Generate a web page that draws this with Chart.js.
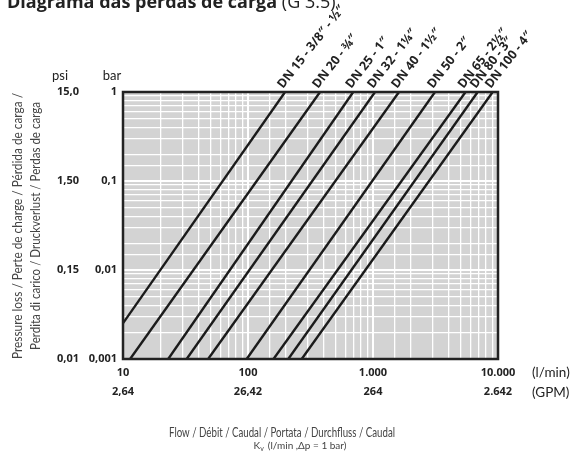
<!DOCTYPE html>
<html>
<head>
<meta charset="utf-8">
<script src="https://cdn.jsdelivr.net/npm/chart.js@4.4.1/dist/chart.umd.min.js"></script>
<style>
  body { margin: 0; background: #fff; }
  #wrap { width: 577px; height: 453px; }
</style>
</head>
<body>
<div id="wrap"><canvas id="loss-chart" width="577" height="453"></canvas></div>
<script>
"use strict";

/* --- DATA --- */

const dn_names = [
  'DN 15 - 3/8\u2033 - \u00bd\u2033',
  'DN 20 - \u00be\u2033',
  'DN 25 - 1\u2033',
  'DN 32 - 1\u00bc\u2033',
  'DN 40 - 1\u00bd\u2033',
  'DN 50 - 2\u2033',
  'DN 65 - 2\u00bd\u2033',
  'DN 80 - 3\u2033',
  'DN 100 - 4\u2033',
];

// flow (l/min) where each line meets 0,001 bar and 1 bar
const flow_at_low = [6.3, 11.4, 23, 32.3, 48, 97.6, 160, 210, 269];
const flow_at_high = [198, 377, 695, 1038, 1614, 3133, 5500, 6880, 9070];
const p_low = 0.001;
const p_high = 1;

const flow_ticks = [10, 100, 1000, 10000];
const flow_labels = ['10', '100', '1.000', '10.000'];
const gpm_labels = ['2,64', '26,42', '264', '2.642'];

const bar_ticks = [0.001, 0.01, 0.1, 1];
const bar_labels = ['0,001', '0,01', '0,1', '1'];
const psi_labels = ['0,01', '0,15', '1,50', '15,0'];

/* --- CHART --- */

const TEXT = '#222';
const BOLD = 'bold 11px "Open Sans"';

function tick_index(ticks, v) {
  return ticks.findIndex(t => Math.abs(Math.log10(t) - Math.log10(v)) < 1e-6);
}

const datasets = dn_names.map((name, i) => ({
  label: name,
  data: [{x: flow_at_low[i], y: p_low}, {x: flow_at_high[i], y: p_high}],
  borderColor: '#1b1b1b',
  borderWidth: 2.4,
  pointRadius: 0,
  clip: 0,
}));

const extras = {
  id: 'extras',
  beforeDraw(chart) {
    const {ctx, chartArea: a} = chart;
    ctx.save();
    ctx.fillStyle = '#d3d3d3';
    ctx.fillRect(a.left, a.top, a.right - a.left, a.bottom - a.top);
    ctx.restore();
  },
  afterDatasetsDraw(chart) {
    const {ctx, chartArea: a, scales} = chart;
    const x = scales.x, y = scales.y;
    ctx.save();

    // frame
    ctx.strokeStyle = '#222';
    ctx.lineWidth = 2.5;
    ctx.strokeRect(a.left, a.top, a.right - a.left, a.bottom - a.top);

    // title (cut at the top)
    ctx.fillStyle = TEXT;
    ctx.textBaseline = 'alphabetic';
    ctx.textAlign = 'left';
    ctx.font = 'bold 18px "Open Sans"';
    const t1 = 'Diagrama das perdas de carga';
    ctx.fillText(t1, 7, 8);
    const w1 = ctx.measureText(t1).width;
    ctx.font = '18px "Open Sans"';
    ctx.fillText(' (G 3.5)', 7 + w1, 8);

    // unit heads
    ctx.font = '13px Lato';
    ctx.textAlign = 'center';
    ctx.fillText('psi', 60, 80);
    ctx.fillText('bar', 112, 80);

    // psi column
    ctx.font = BOLD;
    ctx.textAlign = 'right';
    ctx.textBaseline = 'middle';
    bar_ticks.forEach((v, i) => {
      ctx.fillText(psi_labels[i], 79, y.getPixelForValue(v));
    });

    // flow units
    ctx.font = '13.5px Lato';
    ctx.textAlign = 'left';
    ctx.fillText('(l/min)', 532, 373, 45);
    ctx.fillText('(GPM)', 532, 393, 44);

    // axis titles
    ctx.fillStyle = '#444';
    ctx.textAlign = 'center';
    ctx.font = '12.5px Lato';
    ctx.fillText('Flow / Débit / Caudal / Portata / Durchfluss / Caudal', 282, 433, 226);
    ctx.font = '10px Lato';
    const kv_rest = ' (l/min ,\u0394p = 1 bar)';
    const kw = ctx.measureText('K').width;
    const rw = Math.min(ctx.measureText(kv_rest).width, 98);
    const vx = 300 - (kw + 5 + rw) / 2;
    ctx.textAlign = 'left';
    ctx.fillText('K', vx, 446);
    ctx.font = '7px Lato';
    ctx.fillText('v', vx + kw, 449);
    ctx.font = '10px Lato';
    ctx.fillText(kv_rest, vx + kw + 5, 446, 98);

    ctx.save();
    ctx.translate(18, 226);
    ctx.rotate(-Math.PI / 2);
    ctx.textAlign = 'center';
    ctx.font = '13px Lato';
    ctx.fillText('Pressure loss / Perte de charge / Pérdida de carga /', 0, 0, 266);
    ctx.fillText('Perdita di carico / Druckverlust / Perdas de carga', 0, 18, 248);
    ctx.restore();

    // DN labels along the top
    ctx.fillStyle = TEXT;
    ctx.font = 'bold 12.5px "Open Sans"';
    ctx.textAlign = 'left';
    ctx.textBaseline = 'alphabetic';
    dn_names.forEach((name, i) => {
      const px = x.getPixelForValue(flow_at_high[i]);
      ctx.save();
      ctx.translate(px - 2, a.top - 3);
      ctx.rotate(-52 * Math.PI / 180);
      ctx.fillText(name, 0, 0);
      ctx.restore();
    });

    ctx.restore();
  }
};

const grid_width = c => (c.tick && c.tick.major ? 2 : 1.3);

new Chart(document.getElementById('loss-chart'), {
  type: 'line',
  data: {datasets: datasets},
  options: {
    responsive: false,
    animation: false,
    layout: {padding: {left: 78, right: 79, top: 92, bottom: 49}},
    plugins: {
      legend: {display: false},
      tooltip: {enabled: false}
    },
    scales: {
      x: {
        type: 'logarithmic',
        min: 10,
        max: 10000,
        afterFit: s => { s.height = 45; },
        border: {display: false},
        grid: {color: '#fff', lineWidth: grid_width, drawTicks: false},
        ticks: {
          autoSkip: false,
          maxRotation: 0,
          padding: 4,
          color: TEXT,
          font: {family: 'Open Sans', weight: 'bold', size: 11, lineHeight: 1.75},
          callback: v => {
            const i = tick_index(flow_ticks, v);
            return i < 0 ? '' : [flow_labels[i], gpm_labels[i]];
          }
        }
      },
      y: {
        type: 'logarithmic',
        min: 0.001,
        max: 1,
        afterFit: s => { s.width = 45; },
        border: {display: false},
        grid: {color: '#fff', lineWidth: grid_width, drawTicks: false},
        ticks: {
          autoSkip: false,
          padding: 6,
          color: TEXT,
          font: {family: 'Open Sans', weight: 'bold', size: 11},
          callback: v => {
            const i = tick_index(bar_ticks, v);
            return i < 0 ? '' : bar_labels[i];
          }
        }
      }
    }
  },
  plugins: [extras]
});
</script>
</body>
</html>
